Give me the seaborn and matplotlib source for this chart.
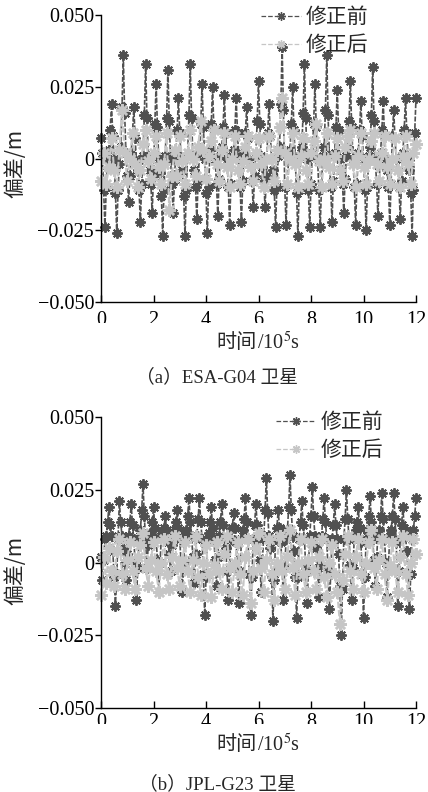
import numpy as np
import pandas as pd
import matplotlib
matplotlib.use("Agg")
import matplotlib.pyplot as plt
import seaborn as sns
from matplotlib.lines import Line2D
from matplotlib.patches import Rectangle
from matplotlib.font_manager import FontProperties

# ---------------- data (values in mm) ----------------
series_labels = ["修正前", "修正后"]
panel_titles = ["（a）ESA-G04 卫星", "（b）JPL-G23 卫星"]
x_ticks = [0, 2, 4, 6, 8, 10, 12]
y_ticks = [-0.05, -0.025, 0.0, 0.025, 0.05]
y_ticklabels = ["\u22120.050", "\u22120.025", "0", "0.025", "0.050"]

# time samples (10^5 s)
t_dense = np.linspace(0, 12, 241)
t_coarse = np.linspace(0, 12, 121)

# (a) ESA-G04, before correction (mm)
a_before_mm = [
    7, 2, -11, -24, -10, 0, 3, 10, 19, 8,
    0, -12, -26, -11, -2, 4, 18, 36, 16, 2,
    -6, -15, -6, 2, 9, 18, 7, -1, -4, -11,
    -22, -9, 1, 15, 33, 14, 1, -4, -9, -19,
    -6, 12, 26, 11, 0, -5, -13, -27, -11, 1,
    14, 31, 13, 0, -9, -19, -7, 2, 10, 21,
    9, 0, -4, -13, -27, -11, 2, 15, 33, 14,
    1, -4, -10, -21, -8, 2, 12, 26, 11, 0,
    -12, -26, -10, 3, 12, 25, 10, 0, -9, -20,
    -7, 1, 4, 11, 22, 9, 0, -10, -23, -9,
    1, 3, 10, 21, 9, 0, -10, -22, -8, 2,
    9, 18, 7, 0, -3, -8, -17, -6, 2, 13,
    27, 12, 1, -3, -8, -17, -6, 9, 19, 8,
    0, -4, -11, -24, -10, 1, 4, 19, 39, 17,
    -10, -23, -9, 1, 3, 12, 25, 10, 0, -12,
    -27, -11, 2, 4, 16, 33, 14, 0, -11, -24,
    -9, 2, 12, 26, 11, 0, -11, -24, -10, 1,
    4, 17, 36, 15, 1, -10, -22, -8, 2, 11,
    24, 10, 0, -4, -9, -19, -7, 1, 4, 13,
    27, 11, 0, -10, -23, -9, 2, 10, 20, 8,
    0, -11, -25, -10, 1, 4, 15, 32, 13, 0,
    -9, -20, -8, 2, 10, 20, 8, 0, -4, -10,
    -23, -9, 8, 17, 7, 0, -4, -10, -21, -8,
    2, 10, 21, 9, 0, -4, -12, -27, -11, 9,
    21,
]

# (a) ESA-G04, after correction (mm)
a_after_mm = [
    -8, 2, -9, -3, 7, -4, -10, 3, 17, 2,
    -8, 0, 9, -2, -10, -4, 5, 10, -1, -7,
    2, 8, -3, -9, -2, 9, -18, -6, 3, -6,
    8, -1, -9, 2, 10, 0, -6, 4, 13, 3,
    -7, 1, 6, 10, -2, -8, 3, 9, -3, -10,
    0, 8, -4, -9, -1, 4, 8, -3, -8, 2,
    7, -2, -10, 0, 8, 0, -8, 3, 11, 21,
    2, -9, 0, 9, -2, -10, 1, 7, -4, -9,
    2, 6, 12, -1, -10, 0, 9, -3, -9, 1,
    7, -4, -8, 4, 8, 10, -2, -10, 1, 9,
    -3, -9, 0, 6, 9, -2, -8, 2, 8, -3,
    -9, 0, 7, -4, -10, 1, 8, -2, -9, 2,
    5,
]

# (b) JPL-G23, before correction (mm)
b_before_mm = [
    2, -6, 1, 8, 9, 14, 19, 13, 9, 4,
    -5, -15, -4, 8, 21, 14, 9, 5, 0, -6,
    3, 9, 14, 20, 13, 8, 0, -13, -2, 8,
    11, 18, 27, 16, 7, -2, 6, 10, 9, 14,
    19, 12, 8, 1, -10, 0, 9, 10, 12, 16,
    11, 7, 3, -3, 6, 9, 11, 14, 18, 12,
    8, 0, -10, 0, 9, 11, 16, 22, 14, 9,
    2, -7, 3, 9, 15, 22, 14, 8, -4, -18,
    -5, 7, 10, 14, 19, 12, 8, 1, -8, 2,
    9, 14, 20, 13, 8, 5, -3, -13, -2, 8,
    12, 17, 12, 7, -3, -14, -3, 8, 11, 15,
    22, 14, 8, -4, -18, -5, 8, 13, 20, 13,
    8, 1, -10, 1, 9, 18, 29, 17, 9, 5,
    -5, -20, -6, 8, 12, 18, 12, 7, -2, -13,
    -2, 8, 11, 19, 30, 18, 9, 4, -5, -19,
    -5, 8, 14, 21, 13, 8, -2, -14, -3, 9,
    16, 26, 16, 9, 5, -2, -12, -1, 9, 15,
    22, 14, 8, -3, -16, -4, 8, 13, 20, 13,
    8, 3, -8, -25, -9, 8, 15, 25, 15, 8,
    -1, -13, -2, 9, 11, 14, 19, 12, 7, -4,
    -19, -5, 8, 11, 16, 23, 14, 8, 1, -8,
    2, 9, 11, 16, 24, 15, 8, 0, -12, -1,
    9, 11, 16, 24, 15, 7, -15, -3, 8, 13,
    19, 12, 9, 4, -4, -16, -4, 8, 11, 16,
    22,
]

# (b) JPL-G23, after correction (mm)
b_after_mm = [
    -11, 2, -7, 5, -3, -8, 4, 8, -4, -9,
    1, 7, -3, -9, 2, 6, 10, -2, -8, 1,
    7, -3, -10, 0, 8, -4, -9, 2, 9, -2,
    -8, 1, 7, -3, -10, 1, 9, -5, -11, 0,
    6, -4, -12, -1, 7, -3, -9, 3, 9, -2,
    -10, 0, 7, -4, -11, 2, 8, -14, -3, 5,
    10, -2, -10, 1, 8, -4, -13, 0, 9, -3,
    -9, 2, 11, -2, -11, 0, 8, -4, -10, 1,
    7, -3, -9, 2, 8, -5, -12, 0, 6, -4,
    -10, -21, -6, 3, 9, -3, -9, 2, 8, -4,
    -10, 0, 7, 11, -2, -9, 1, 8, -4, -13,
    -1, 7, -3, -10, 2, 9, -4, -11, 0, 8,
    3,
]

# ---------------- style ----------------
sns.set_style("ticks")
plt.rcParams["font.family"] = ["Liberation Serif", "Noto Sans CJK SC", "DejaVu Sans"]
plt.rcParams["mathtext.fontset"] = "stix"
plt.rcParams["axes.unicode_minus"] = True

dark = "#505050"
light = "#c6c6c6"
star = (8, 2, 0)

fig = plt.figure(figsize=(4.28, 7.92), dpi=100)
fig.patch.set_facecolor("white")

axes_rects = [
    [101 / 428, 1 - 302 / 792, 315 / 428, 287 / 792],
    [101 / 428, 1 - 708 / 792, 315 / 428, 291 / 792],
]
panels = [
    (a_before_mm, a_after_mm),
    (b_before_mm, b_after_mm),
]
legend_anchor = [(0.508, 1.032), (0.555, 1.020)]
ylabel_y = [1 - 163 / 792, 1 - 570 / 792]
xlabel_y = [-0.143, -0.128]
xtick_pad = [6.5, 3.5]
caption_y = [1 - 377 / 792, 1 - 784 / 792]
clip_bands = [(323, 331), (724, 730)]

cjk = FontProperties(family=["Noto Sans CJK SC", "Liberation Serif"], size=15)
serif_cjk = ["Liberation Serif", "Noto Sans CJK SC"]

for i, rect in enumerate(axes_rects):
    ax = fig.add_axes(rect)
    before, after = panels[i]
    df_b = pd.DataFrame({"t": t_dense, "v": np.array(before) / 1000.0})
    df_a = pd.DataFrame({"t": t_coarse, "v": np.array(after) / 1000.0})
    sns.lineplot(data=df_b, x="t", y="v", ax=ax, sort=False, estimator=None,
                 color=dark, linestyle=(0, (3, 1)), linewidth=1.2, marker=star,
                 markersize=7.5, markeredgewidth=1.4, markeredgecolor=dark,
                 clip_on=False, legend=False)
    sns.lineplot(data=df_a, x="t", y="v", ax=ax, sort=False, estimator=None,
                 color=light, linestyle=(0, (3, 1)), linewidth=1.5, marker=star,
                 markersize=9, markeredgewidth=1.8, markeredgecolor=light,
                 clip_on=False, legend=False)
    ax.set_xlim(0, 12)
    ax.set_ylim(-0.05, 0.05)
    ax.set_xticks(x_ticks)
    ax.set_xticklabels([str(v) for v in x_ticks])
    ax.set_yticks(y_ticks)
    ax.set_yticklabels(y_ticklabels)
    for s in ["top", "right"]:
        ax.spines[s].set_visible(False)
    for s in ["left", "bottom"]:
        ax.spines[s].set_color("black")
        ax.spines[s].set_linewidth(1.0)
    ax.tick_params(axis="x", direction="in", length=5, width=1.0,
                   labelsize=14.5, pad=xtick_pad[i], colors="black")
    ax.tick_params(axis="y", direction="out", length=4, width=1.0,
                   labelsize=14.5, pad=1, colors="black")
    ax.set_xlabel("")
    ax.set_ylabel("")

    # x label: CJK part and the serif/superscript part side by side
    ax.text(0.495, xlabel_y[i], "时间", transform=ax.transAxes, ha="right",
            va="center", fontsize=14.5, family=serif_cjk)
    ax.text(0.495, xlabel_y[i], "/10$^{5}$s", transform=ax.transAxes,
            ha="left", va="center", fontsize=14.5, family="Liberation Serif")

    fig.text(15 / 428, ylabel_y[i], "偏差/m", rotation=90, ha="center",
             va="center", fontsize=15, family=["Noto Sans CJK SC", "Liberation Serif"])

    handles = [
        Line2D([], [], color=dark, linestyle="--", linewidth=0.9, marker=star,
               markersize=6, markeredgewidth=1.0),
        Line2D([], [], color=light, linestyle="--", linewidth=0.9, marker=star,
               markersize=6, markeredgewidth=1.0),
    ]
    ax.legend(handles, series_labels, loc="upper left",
              bbox_to_anchor=legend_anchor[i], frameon=False, prop=cjk,
              handlelength=1.9, handletextpad=0.25, borderpad=0,
              borderaxespad=0, labelspacing=0.3, numpoints=1)

    fig.text(0.508, caption_y[i], panel_titles[i], ha="center", va="center",
             fontsize=13.5, family=serif_cjk)

    y0, y1 = clip_bands[i]
    fig.patches.append(Rectangle((0.2, 1 - y1 / 792), 0.8, (y1 - y0) / 792,
                                 transform=fig.transFigure, facecolor="white",
                                 edgecolor="none", zorder=10))

fig.savefig("out.png", dpi=100, facecolor="white")
